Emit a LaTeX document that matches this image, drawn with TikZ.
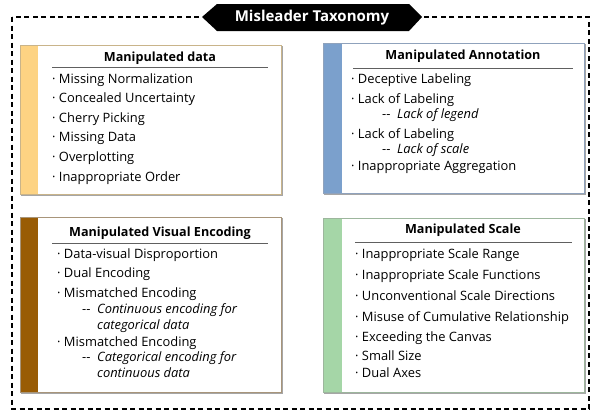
\documentclass[tikz,border=0pt]{standalone}
\usepackage{fontspec}
\setmainfont{Open Sans}
\definecolor{barA}{HTML}{FDD383}
\definecolor{brdA}{HTML}{C9B48A}
\definecolor{barB}{HTML}{7BA0CC}
\definecolor{brdB}{HTML}{8FA2BC}
\definecolor{barC}{HTML}{995C05}
\definecolor{brdC}{HTML}{A8957A}
\definecolor{barD}{HTML}{A5D6A7}
\definecolor{brdD}{HTML}{9DB69D}
\definecolor{rulec}{HTML}{606060}
\begin{document}
\begin{tikzpicture}[x=1pt,y=-1pt,
  item/.style={anchor=west, inner sep=0pt, text height=10pt, text depth=2pt, font=\fontsize{12.9}{14}\selectfont},
  sub/.style={item, font=\fontsize{12.9}{14}\selectfont\itshape},
  ttl/.style={anchor=center, inner sep=0pt, text height=10pt, text depth=2pt, font=\fontsize{12.6}{14}\selectfont\bfseries},
  rulel/.style={draw=rulec, line width=0.9pt},
  shadow/.style={draw=black!35, line width=0.9pt},
  outer/.style={draw=black, line width=1.1pt, dash pattern=on 5pt off 3.5pt},
  banner/.style={fill=black},
  bannertext/.style={text=white, font=\fontsize{15}{16}\selectfont\bfseries, inner sep=0pt}
]
\useasboundingbox (0,0) rectangle (594,410);

% outer dashed frame
\draw[outer] (12,17) rectangle (589,409);

% banner
\fill[banner] (202,17) -- (217,4) -- (409,4) -- (422,17) -- (409,31) -- (217,31) -- cycle;
\node[bannertext] (banner) at (312,17.5) {Misleader Taxonomy};

% ---------- Box A ----------
\draw[shadow] (21,195) -- (282,195) -- (282,46);
\draw[brdA, line width=1pt] (20,45) rectangle (281,194);
\fill[barA] (20.5,45.5) rectangle (38,193.5);
\node[ttl] (tA) at (160,57) {Manipulated data};
\draw[rulel] (52,67) -- (268,67);
\node[item] (a1) at (52,79) {· Missing Normalization};
\node[item] (a2) at (52,98) {· Concealed Uncertainty};
\node[item] (a3) at (52,118) {· Cherry Picking};
\node[item] (a4) at (52,137) {· Missing Data};
\node[item] (a5) at (52,157) {· Overplotting};
\node[item] (a6) at (52,177) {· Inappropriate Order};

% ---------- Box B ----------
\draw[shadow] (324,194) -- (585,194) -- (585,44);
\draw[brdB, line width=1pt] (323,43) rectangle (584,193);
\fill[barB] (323.5,43.5) rectangle (342,192.5);
\node[ttl] (tB) at (463,55) {Manipulated Annotation};
\draw[rulel] (353,68) -- (573,68);
\node[item] (b1) at (351,79) {· Deceptive Labeling};
\node[item] (b2) at (351,99) {· Lack of Labeling};
\node[item] (b3d) at (382,114) {-{}-};
\node[sub] (b3) at (397,114) {Lack of legend};
\node[item] (b4) at (351,134) {· Lack of Labeling};
\node[item] (b5d) at (382,149) {-{}-};
\node[sub] (b5) at (397,149) {Lack of scale};
\node[item] (b6) at (351,166) {· Inappropriate Aggregation};

% ---------- Box C ----------
\draw[shadow] (21,393) -- (282,393) -- (282,218);
\draw[brdC, line width=1pt] (20,217) rectangle (281,392);
\fill[barC] (20.5,217.5) rectangle (38,391.5);
\node[ttl] (tC) at (160,232) {Manipulated Visual Encoding};
\draw[rulel] (52,243) -- (268,243);
\node[item] (c1) at (57,254) {· Data-visual Disproportion};
\node[item] (c2) at (57,273) {· Dual Encoding};
\node[item] (c3) at (57,293) {· Mismatched Encoding};
\node[item] (c4d) at (82,309) {-{}-};
\node[sub] (c4) at (97,309) {Continuous encoding for};
\node[sub] (c5) at (97,325) {categorical data};
\node[item] (c6) at (57,342) {· Mismatched Encoding};
\node[item] (c7d) at (82,357) {-{}-};
\node[sub] (c7) at (97,357) {Categorical encoding for};
\node[sub] (c8) at (97,373) {continuous data};

% ---------- Box D ----------
\draw[shadow] (324,393) -- (585,393) -- (585,219);
\draw[brdD, line width=1pt] (323,218) rectangle (584,392);
\fill[barD] (323.5,218.5) rectangle (342,391.5);
\node[ttl] (tD) at (463,229) {Manipulated Scale};
\draw[rulel] (355,242) -- (572,242);
\node[item] (d1) at (355,254) {· Inappropriate Scale Range};
\node[item] (d2) at (355,275) {· Inappropriate Scale Functions};
\node[item] (d3) at (355,296) {· Unconventional Scale Directions};
\node[item] (d4) at (355,317) {· Misuse of Cumulative Relationship};
\node[item] (d5) at (355,337) {· Exceeding the Canvas};
\node[item] (d6) at (355,356) {· Small Size};
\node[item] (d7) at (355,373) {· Dual Axes};
\end{tikzpicture}
\end{document}
